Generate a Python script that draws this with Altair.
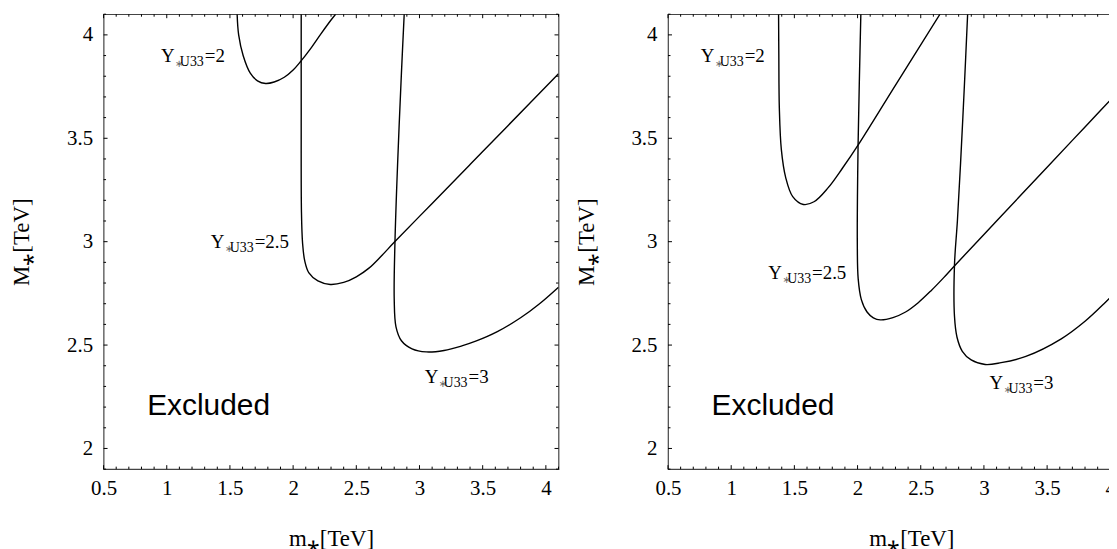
import altair as alt
import pandas as pd

# ---------------- data ----------------
# Left panel contours
L_A_x = [1.557, 1.569, 1.605, 1.661, 1.718, 1.782, 1.850, 1.930, 2.000, 2.060, 2.140, 2.220, 2.300, 2.336]
L_A_y = [4.10, 4.00, 3.899, 3.815, 3.778, 3.765, 3.772, 3.795, 3.830, 3.872, 3.935, 4.005, 4.072, 4.100]
L_B_x = [2.064, 2.064, 2.066, 2.075, 2.092, 2.125, 2.196, 2.294, 2.400, 2.500, 2.600, 2.700, 2.800, 3.100, 3.400, 3.700, 4.100]
L_B_y = [4.10, 3.647, 3.143, 2.991, 2.907, 2.849, 2.810, 2.793, 2.803, 2.830, 2.872, 2.932, 2.997, 3.185, 3.373, 3.561, 3.812]
L_C_x = [2.879, 2.857, 2.828, 2.806, 2.800, 2.814, 2.857, 2.941, 3.053, 3.194, 3.335, 3.450, 3.616, 3.800, 3.950, 4.100]
L_C_y = [4.10, 3.815, 3.395, 3.000, 2.722, 2.588, 2.521, 2.482, 2.467, 2.474, 2.496, 2.520, 2.565, 2.632, 2.700, 2.780]

# Right panel contours
R_A_x = [1.375, 1.377, 1.381, 1.397, 1.431, 1.487, 1.571, 1.655, 1.766, 1.880, 2.004, 2.298, 2.652]
R_A_y = [4.10, 3.90, 3.647, 3.445, 3.311, 3.218, 3.180, 3.193, 3.260, 3.355, 3.467, 3.755, 4.100]
R_B_x = [2.026, 2.015, 2.004, 1.998, 2.005, 2.030, 2.075, 2.125, 2.180, 2.280, 2.380, 2.480, 2.580, 2.680, 2.770, 3.100, 3.500, 3.800, 4.100]
R_B_y = [4.10, 3.80, 3.462, 3.000, 2.820, 2.720, 2.660, 2.632, 2.622, 2.633, 2.660, 2.705, 2.762, 2.825, 2.885, 3.100, 3.360, 3.555, 3.750]
R_C_x = [2.871, 2.845, 2.815, 2.790, 2.767, 2.767, 2.787, 2.829, 2.899, 3.010, 3.136, 3.332, 3.612, 3.800, 3.950, 4.030, 4.100]
R_C_y = [4.10, 3.75, 3.378, 3.10, 2.887, 2.639, 2.538, 2.470, 2.428, 2.406, 2.415, 2.445, 2.530, 2.615, 2.700, 2.750, 2.800]

# Contour labels  Y_{*U33}=value
label_vals = ["=2", "=2.5", "=3"]
L_label_x = [0.954, 1.349, 3.041]
L_label_y = [3.868, 2.970, 2.317]
R_label_x = [0.760, 1.293, 3.044]
R_label_y = [3.868, 2.821, 2.289]
excl_text = ["Excluded"]
excl_x = [0.845]
excl_y = [2.164]

# Axis ticks
x_major = [0.5, 1.0, 1.5, 2.0, 2.5, 3.0, 3.5, 4.0]
x_minor = [0.6, 0.7, 0.8, 0.9, 1.1, 1.2, 1.3, 1.4, 1.6, 1.7, 1.8, 1.9,
           2.1, 2.2, 2.3, 2.4, 2.6, 2.7, 2.8, 2.9, 3.1, 3.2, 3.3, 3.4,
           3.6, 3.7, 3.8, 3.9, 4.1, 4.2, 4.3]
y_major = [2.0, 2.5, 3.0, 3.5, 4.0]
y_minor = [1.9, 2.1, 2.2, 2.3, 2.4, 2.6, 2.7, 2.8, 2.9, 3.1, 3.2, 3.3, 3.4,
           3.6, 3.7, 3.8, 3.9, 4.1]

X_TITLE = "m⁎[TeV]"
Y_TITLE = "M⁎[TeV]"

# ---------------- styling ----------------
H = 457
PX_PER_X = 457 / 3.6
W_LEFT = 457
W_RIGHT = 489        # right panel runs past the page edge (its title is centred further right)
SERIF = "Liberation Serif"
SANS = "Liberation Sans"
MAJ, MIN = 4, 2.5
FRAME = "#444"

ys = alt.Scale(domain=[1.9, 4.1], nice=False, zero=False)

xaxis = alt.Axis(values=x_major, format="~g", ticks=False, tickSize=0,
                 domain=False, grid=False, labelFont=SERIF, labelFontSize=21,
                 labelColor="black", labelPadding=8, labelFlush=False,
                 titleFont=SERIF, titleFontSize=23, titleFontWeight="normal",
                 titleColor="black", titlePadding=30)
yaxis = alt.Axis(values=y_major, format="~g", ticks=False, tickSize=0,
                 domain=False, grid=False, labelFont=SERIF, labelFontSize=21,
                 labelColor="black", labelPadding=11, labelFlush=False,
                 titleFont=SERIF, titleFontSize=23, titleFontWeight="normal",
                 titleColor="black", titlePadding=33)


def curves_df(curves):
    rows = []
    for name, xv, yv in curves:
        for i, (a, b) in enumerate(zip(xv, yv)):
            rows.append({"curve": name, "i": i, "x": a, "y": b})
    return pd.DataFrame(rows)


def panel(curves, lx, ly, W):
    xmax = 0.5 + W / PX_PER_X
    xs = alt.Scale(domain=[0.5, xmax], nice=False, zero=False)

    def X(field):
        return alt.X(field, scale=xs, title=X_TITLE, axis=xaxis)

    def Y(field):
        return alt.Y(field, scale=ys, title=Y_TITLE, axis=yaxis)

    layers = []
    cdf = curves_df(curves)
    layers.append(alt.Chart(cdf).mark_line(
        color="black", strokeWidth=1.4, interpolate="catmull-rom", clip=True
    ).encode(x=X("x:Q"), y=Y("y:Q"), detail="curve:N", order="i:Q"))

    # inward tick marks on all four sides
    for vals, ln in ((x_major, MAJ), (x_minor, MIN)):
        d = pd.DataFrame({"x": [v for v in vals if v <= xmax + 1e-9]})
        layers.append(alt.Chart(d).mark_rule(color="black", strokeWidth=1).encode(
            x=X("x:Q"), y=alt.value(0), y2=alt.value(ln)))
        layers.append(alt.Chart(d).mark_rule(color="black", strokeWidth=1).encode(
            x=X("x:Q"), y=alt.value(H), y2=alt.value(H - ln)))
    for vals, ln in ((y_major, MAJ), (y_minor, MIN)):
        d = pd.DataFrame({"y": vals})
        layers.append(alt.Chart(d).mark_rule(color="black", strokeWidth=1).encode(
            y=Y("y:Q"), x=alt.value(0), x2=alt.value(ln)))
        layers.append(alt.Chart(d).mark_rule(color="black", strokeWidth=1).encode(
            y=Y("y:Q"), x=alt.value(W), x2=alt.value(W - ln)))

    # contour labels: Y, small grey star, U33 subscript, =value
    ldf = pd.DataFrame({"x": lx, "y": ly, "val": label_vals})
    lb = alt.Chart(ldf).encode(x=X("x:Q"), y=Y("y:Q"))
    layers.append(lb.mark_text(font=SERIF, fontSize=19, align="left", baseline="alphabetic",
                               color="black").encode(text=alt.value("Y")))
    layers.append(lb.mark_text(font="DejaVu Sans", fontSize=10, align="left",
                               baseline="alphabetic", color="#666", dx=14, dy=4.5
                               ).encode(text=alt.value("∗")))
    layers.append(lb.mark_text(font=SERIF, fontSize=14, align="left", baseline="alphabetic",
                               color="black", dx=19, dy=4).encode(text=alt.value("U33")))
    layers.append(lb.mark_text(font=SERIF, fontSize=19, align="left", baseline="alphabetic",
                               color="black", dx=44).encode(text="val:N"))

    edf = pd.DataFrame({"x": excl_x, "y": excl_y, "t": excl_text})
    layers.append(alt.Chart(edf).mark_text(font=SANS, fontSize=30, align="left",
                                           baseline="alphabetic", color="black").encode(
        x=X("x:Q"), y=Y("y:Q"), text="t:N"))
    return alt.layer(*layers).properties(width=W, height=H)


left = panel([("A", L_A_x, L_A_y), ("B", L_B_x, L_B_y), ("C", L_C_x, L_C_y)],
             L_label_x, L_label_y, W_LEFT)
right = panel([("A", R_A_x, R_A_y), ("B", R_B_x, R_B_y), ("C", R_C_x, R_C_y)],
              R_label_x, R_label_y, W_RIGHT)

# the reference cuts the right panel at the page edge: a negative right padding
# crops the drawing the same way
chart = alt.hconcat(left, right, spacing=14).properties(
    padding={"left": 2, "top": 3, "right": -48, "bottom": 0},
    background="white",
).configure_view(stroke=FRAME, strokeWidth=1.2)

chart.save("out.html", embed_options={"renderer": "svg", "actions": False})
